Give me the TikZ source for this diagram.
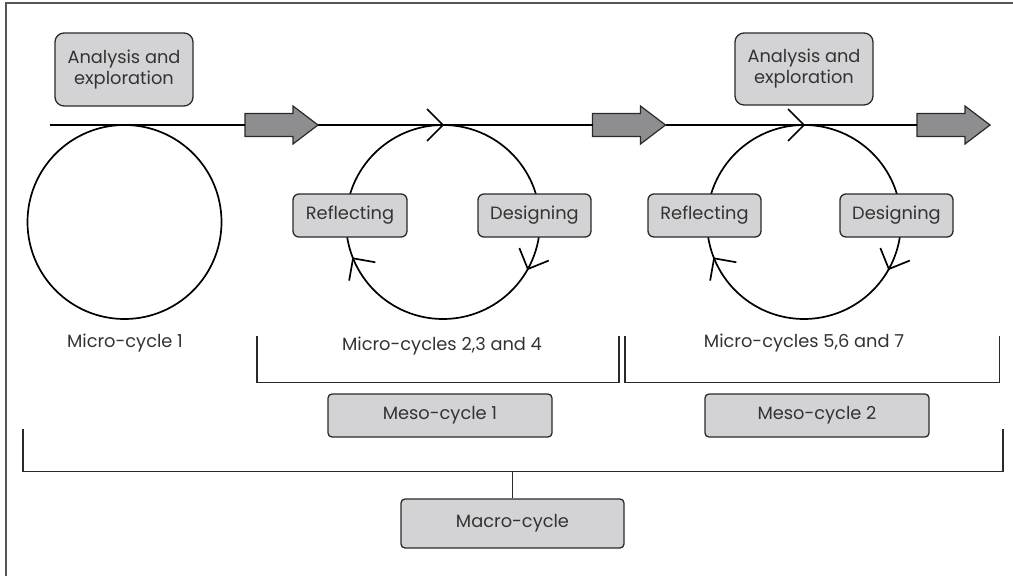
\documentclass[tikz,border=0pt]{standalone}
\usepackage{fontspec}
\setmainfont{Poppins}
\usetikzlibrary{calc}
\definecolor{ink}{HTML}{2A2A2A}
\definecolor{txt}{HTML}{333333}
\definecolor{boxfill}{HTML}{D3D3D5}
\definecolor{arrowfill}{HTML}{8E8E90}
\definecolor{frame}{HTML}{555555}
% block arrow on the timeline: #1 name, #2 x of its tail
\newcommand\flowarrow[2]{%
  \coordinate (#1-tail) at (#2,125);
  \coordinate (#1-tip) at (#2+73,125);
  \draw[flowshape] (#1-tail) ++(0,-11.5) -- ++(48,0) -- ++(0,-7.5) -- (#1-tip)
    -- ++(-25,19) -- ++(0,-7.5) -- ++(-48,0) -- cycle;}
\begin{document}
\begin{tikzpicture}[x=1pt,y=-1pt,
  every node/.style={font=\fontsize{17.8}{21}\selectfont, text=txt},
  gbox/.style={draw=ink, fill=boxfill, line width=1.3pt, inner sep=0pt, align=center},
  cycle/.style={circle, draw=black, line width=1.7pt, minimum size=194pt, inner sep=0pt, outer sep=0pt},
  flowshape/.style={draw=ink, fill=arrowfill, line width=1.2pt, line join=miter},
  timeline/.style={draw=black, line width=1.9pt},
  brace/.style={draw=ink, line width=1.7pt},
  chev/.pic={\draw[black, line width=1.7pt] (-16,-16) -- (0,0) -- (-16,16);}
]
\useasboundingbox (0,0) rectangle (1013,576);
% frame
\draw[frame, line width=1.5pt] (6,576) -- (6,3) -- (1013,3);

% cycles
\node[cycle] (c1) at (124.5,222) {};
\node[cycle] (c2) at (443,222) {};
\node[cycle] (c3) at (804,222) {};

% timeline and flow arrows
\coordinate (start) at (50,125);
\flowarrow{a1}{245}
\flowarrow{a2}{592.5}
\flowarrow{a3}{917}
\draw[timeline] (start) -- (a1-tail);
\draw[timeline] (a1-tip) -- (a2-tail);
\draw[timeline] (a2-tip) -- (a3-tail);

% direction marks on the cycles
\foreach \c in {c2,c3}{
  \pic[rotate=0] at (\c.90) {chev};
  \pic[rotate=247] at (\c.-29) {chev};
  \pic[rotate=125] at (\c.202) {chev};
}

% labelled boxes
\node[gbox, rounded corners=9pt, minimum width=138pt, minimum height=73pt] (an1) at (124,69.5) {Analysis and\\exploration};
\node[gbox, rounded corners=9pt, minimum width=138pt, minimum height=72pt] (an2) at (804,69) {Analysis and\\exploration};
\node[gbox, rounded corners=6pt, minimum width=114pt, minimum height=43pt] (ref2) at (350,215.5) {Reflecting};
\node[gbox, rounded corners=6pt, minimum width=113pt, minimum height=43pt] (des2) at (534.5,215.5) {Designing};
\node[gbox, rounded corners=6pt, minimum width=113pt, minimum height=43pt] (ref3) at (704.5,215.5) {Reflecting};
\node[gbox, rounded corners=6pt, minimum width=113pt, minimum height=43pt] (des3) at (896.5,215.5) {Designing};

% cycle captions
\node (l1) at (125,343) {Micro-cycle 1};
\node (l2) at (442,346) {Micro-cycles 2,3 and 4};
\node (l3) at (804,343) {Micro-cycles 5,6 and 7};

% meso brackets
\draw[brace] (257,336) -- (257,382.5) -- (619,382.5) -- (619,336);
\draw[brace] (625,336) -- (625,382.5) -- (999.5,382.5) -- (999.5,336);
\node[gbox, rounded corners=4pt, minimum width=224pt, minimum height=43pt] (m1) at (440,415.5) {Meso-cycle 1};
\node[gbox, rounded corners=4pt, minimum width=224pt, minimum height=43pt] (m2) at (817,415.5) {Meso-cycle 2};

% macro bracket
\coordinate (join) at (512.5,471.5);
\draw[brace] (23,429) -- (23,471.5) -- (1003,471.5) -- (1003,429);
\node[gbox, rounded corners=4pt, minimum width=223pt, minimum height=49pt] (mac) at (512.5,523.5) {Macro-cycle};
\draw[brace] (join) -- (mac.north);
\end{tikzpicture}
\end{document}
